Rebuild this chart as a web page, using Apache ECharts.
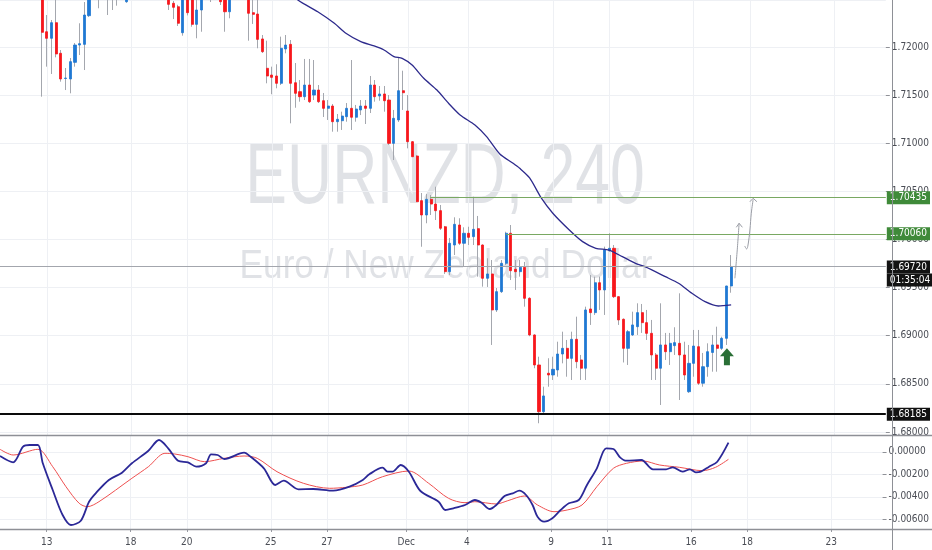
<!DOCTYPE html>
<html><head><meta charset="utf-8">
<script src="https://cdn.jsdelivr.net/npm/echarts@6/dist/echarts.min.js"></script>
<style>html,body{margin:0;padding:0;background:#fff}#c{width:932px;height:550px}</style>
</head><body><div id="c"></div><script>
// ---- data (EURNZD, 240) ----
const slotCount = 190;
const tickIdx  = [10, 28, 40, 58, 70, 87, 100, 118, 130, 148, 160, 178];
const tickText = ['13','18','20','25','27','Dec','4','9','11','16','18','23'];

const opens = [1.7282,1.7288,1.7284,1.7290,1.7283,1.7286,1.7280,1.7276,1.7272,1.7260,
1.72160,1.72092,1.72254,1.71936,1.71674,1.71669,1.71842,1.72022,1.72029,1.72327,
1.7252,1.7263,1.7258,1.7266,1.7260,1.7263,1.7257,1.72472,1.7262,1.7270,
1.7266,1.7274,1.7270,1.7268,1.7276,1.7266,1.72500,1.72456,1.72420,1.72150,
1.72552,1.7254,1.72237,1.72386,1.7252,1.7262,1.7258,1.7266,1.7250,1.72368,
1.7255,1.7262,1.7258,1.7254,1.72358,1.72344,1.72085,1.71780,1.71710,1.71700,
1.71624,1.71981,1.72029,1.71630,1.71537,1.71485,1.71606,1.71502,1.71554,1.71443,
1.71364,1.71388,1.71225,1.71235,1.71277,1.71364,1.71271,1.71347,1.71388,1.71364,
1.71606,1.71492,1.71513,1.71450,1.71000,1.71243,1.71547,1.71336,1.71017,1.70868,
1.70404,1.70255,1.70418,1.70369,1.70300,1.70133,1.69666,1.69943,1.70151,1.69961,
1.70065,1.70030,1.70113,1.69943,1.69597,1.69642,1.69268,1.69458,1.69753,1.70065,
1.69691,1.69666,1.69711,1.69389,1.69008,1.68696,1.68210,1.68610,1.68592,1.68644,
1.68810,1.68869,1.68765,1.68963,1.68748,1.68662,1.69278,1.69240,1.69551,1.69476,
1.69884,1.69909,1.69406,1.69171,1.68869,1.69008,1.69094,1.69240,1.69136,1.69025,
1.68800,1.68662,1.68904,1.68834,1.68897,1.68921,1.68800,1.68418,1.68713,1.68886,
1.68506,1.68678,1.68826,1.68904,1.68869,1.68973,1.69517];
const closes = [1.7288,1.7284,1.7290,1.7283,1.7286,1.7280,1.7276,1.7272,1.7260,1.72154,
1.72092,1.72254,1.71929,1.71669,1.71679,1.71849,1.72022,1.72036,1.72334,1.72521,
1.7262,1.7258,1.7266,1.7260,1.7263,1.7257,1.7265,1.7262,1.7270,1.7266,
1.7274,1.7270,1.7268,1.7276,1.7266,1.7252,1.72445,1.72414,1.72248,1.72552,
1.72358,1.72237,1.72386,1.7252,1.7262,1.7258,1.7266,1.72472,1.72368,1.7255,
1.7262,1.7258,1.7254,1.72352,1.72341,1.72081,1.71953,1.71700,1.71686,1.71624,
1.71988,1.72022,1.71624,1.71520,1.71485,1.71606,1.71433,1.71554,1.71433,1.71364,
1.71388,1.71225,1.71250,1.71284,1.71364,1.71271,1.71357,1.71388,1.71364,1.71606,
1.71485,1.71513,1.71443,1.71000,1.71260,1.71547,1.71526,1.71017,1.70861,1.70393,
1.70255,1.70418,1.70369,1.70300,1.70117,1.69666,1.69961,1.70158,1.69961,1.70065,
1.70023,1.70106,1.69943,1.69597,1.69642,1.69268,1.69458,1.69753,1.70065,1.69676,
1.69666,1.69711,1.69389,1.69008,1.68696,1.68210,1.68374,1.68592,1.68651,1.68810,
1.68869,1.68765,1.68963,1.68730,1.68662,1.69268,1.69240,1.69551,1.69476,1.69892,
1.69909,1.69406,1.69164,1.68869,1.69042,1.69112,1.69240,1.69136,1.69025,1.68800,
1.68662,1.68904,1.68834,1.68921,1.68928,1.68800,1.68592,1.68713,1.68893,1.68506,
1.68678,1.68834,1.68904,1.68869,1.68973,1.69517,1.69720];
const lows = [1.7277,1.7279,1.7280,1.7278,1.7276,1.7274,1.7270,1.7265,1.7255,1.71485,
1.71797,1.71721,1.71894,1.71641,1.71554,1.71520,1.71797,1.71918,1.71762,1.72313,
1.7250,1.72404,1.7253,1.72334,1.72386,1.72431,1.7252,1.72460,1.7258,1.7260,
1.7262,1.7264,1.7262,1.7264,1.7262,1.7250,1.72386,1.72292,1.72220,1.72119,
1.7233,1.72212,1.72092,1.72160,1.7250,1.72469,1.7254,1.72438,1.72160,1.7230,
1.7250,1.7252,1.7250,1.72067,1.72241,1.71988,1.71939,1.71624,1.71510,1.71572,
1.71606,1.71936,1.71208,1.71370,1.71433,1.71450,1.71419,1.71450,1.71419,1.71274,
1.71243,1.71121,1.71121,1.71139,1.71225,1.71139,1.71225,1.71294,1.71201,1.71315,
1.71433,1.71443,1.71329,1.70983,1.70827,1.71222,1.71347,1.70948,1.70858,1.70390,
1.69925,1.70169,1.70255,1.70203,1.70099,1.69642,1.69631,1.69839,1.69943,1.69718,
1.69943,1.69943,1.69614,1.69510,1.69507,1.68904,1.69247,1.69444,1.69735,1.69579,
1.69476,1.69614,1.69302,1.68995,1.68662,1.68090,1.68197,1.68470,1.68540,1.68574,
1.68713,1.68574,1.68540,1.68662,1.68540,1.68540,1.69112,1.69216,1.69268,1.69216,
1.69871,1.69392,1.69112,1.68722,1.68696,1.68997,1.69008,1.69029,1.68956,1.68540,
1.68540,1.68280,1.68748,1.68696,1.68800,1.68332,1.68540,1.68405,1.68574,1.68488,
1.68470,1.68574,1.68626,1.68626,1.68852,1.68904,1.69447];
const highs = [1.7293,1.7292,1.7296,1.7294,1.7291,1.7289,1.7285,1.7280,1.7278,1.72646,
1.72334,1.72282,1.72542,1.71970,1.71783,1.71887,1.72043,1.72248,1.72469,1.72594,
1.7270,1.7268,1.7272,1.7275,1.7271,1.7268,1.7270,1.7266,1.7276,1.7278,
1.7280,1.7282,1.7276,1.7282,1.7280,1.7270,1.7256,1.7248,1.7244,1.7258,
1.7260,1.7258,1.7250,1.7260,1.7268,1.7270,1.7272,1.7268,1.7256,1.7262,
1.7268,1.7270,1.7266,1.7262,1.7249,1.7249,1.72126,1.72067,1.71797,1.71822,
1.72109,1.72126,1.72074,1.71835,1.71658,1.71877,1.71877,1.71866,1.71606,1.71523,
1.71450,1.71409,1.71305,1.71329,1.71419,1.71866,1.71399,1.71450,1.71450,1.71700,
1.71658,1.71596,1.71596,1.71502,1.71347,1.71894,1.71755,1.71502,1.71024,1.70879,
1.70484,1.70473,1.70463,1.70549,1.70359,1.70141,1.70016,1.70231,1.70221,1.70127,
1.70133,1.70445,1.70245,1.69950,1.69805,1.69787,1.69496,1.69787,1.70081,1.70151,
1.69787,1.69787,1.69767,1.69400,1.69015,1.68782,1.68470,1.68766,1.68782,1.68938,
1.69042,1.68956,1.69042,1.69198,1.68800,1.69302,1.69631,1.69614,1.69614,1.69926,
1.70065,1.69943,1.69410,1.69180,1.69060,1.69250,1.69337,1.69330,1.69268,1.69164,
1.68820,1.69337,1.69029,1.69029,1.69088,1.69441,1.68938,1.68904,1.69060,1.69060,
1.68821,1.68921,1.69008,1.69094,1.68990,1.69520,1.69839];

// moving average (navy), read at bar positions
const maIdx = [60.4,63.56,67.8,71.34,73.8,76.98,79.82,81.94,84.05,85.81,87.93,90.41,93.23,95.71,98.17,101.34,103.82,106.64,109.48,110.88,113.0,115.48,117.95,121.47,124.31,127.13,129.95,132.79,135.6,137.72,141.96,144.78,147.62,150.44,153.26,156];
const maVal = [1.72646,1.72490,1.72368,1.72248,1.72144,1.72057,1.72012,1.71970,1.71901,1.71884,1.71814,1.71676,1.71554,1.71416,1.71295,1.71191,1.71069,1.70889,1.70792,1.70740,1.70640,1.70432,1.70273,1.70099,1.69978,1.69909,1.69891,1.69822,1.69753,1.69715,1.69614,1.69545,1.69441,1.69354,1.69309,1.69320];

// MACD pane
const macdIdx = [0,2.82,4.94,6.36,8.12,9.17,11.29,13.41,15.19,17.31,19.07,20.49,23.31,26.12,28.24,31.78,34.05,36.02,38.14,40.26,42.01,44.13,45.19,46.61,48.03,52.27,53.67,56.51,58.96,60.74,63.92,67.1,71.34,74.85,77.69,79.09,81.93,82.99,84.05,85.81,87.56,90.04,93.92,95.34,97.1,99.58,101.7,103.12,104.88,106.29,108.05,109.81,111.23,112.65,114.05,115.11,116.53,118.29,120.06,121.82,123.94,125.7,127.82,129.81,131.36,132.78,134.18,137.35,139.83,142.65,144.07,146.19,147.73,149.0,150.06,151.84,153.6,156];
const macdVal = [-0.000365,-0.000926,0.000463,0.000614,0.000614,-0.001015,-0.003391,-0.005616,-0.006506,-0.006124,-0.004433,-0.003685,-0.002501,-0.001851,-0.001015,0.000107,0.001059,0.000320,-0.000783,-0.000926,-0.001317,-0.001015,-0.000214,-0.000276,-0.000632,-0.000071,-0.000427,-0.001460,-0.002946,-0.002563,-0.003329,-0.003302,-0.003453,-0.003097,-0.002501,-0.001994,-0.001406,-0.001762,-0.001762,-0.001166,-0.001762,-0.003480,-0.004433,-0.005171,-0.005020,-0.004726,-0.004281,-0.004522,-0.005082,-0.004726,-0.003925,-0.003685,-0.003453,-0.003836,-0.004726,-0.005768,-0.006213,-0.005910,-0.005171,-0.004575,-0.004281,-0.002946,-0.001460,0.000320,0.000258,-0.000481,-0.000783,-0.000721,-0.001549,-0.001549,-0.001371,-0.001762,-0.001549,-0.001816,-0.001762,-0.001317,-0.000872,0.000819];
const sigIdx = [0,2.82,8.12,11.29,14.13,16.95,18.71,21.19,28.24,31.78,35.32,37.44,40.25,43.79,48.03,52.27,55.08,59.32,64.98,70.61,74.15,77.69,81.93,87.56,91.8,96.04,99.58,101.7,106.29,108.75,112.29,115.11,118.64,121.46,124.64,127.82,131.36,134.18,137.71,141.25,145.49,150.42,153.24,156];
const sigVal = [0.000231,-0.000276,0.000231,-0.001317,-0.003097,-0.004575,-0.004878,-0.004433,-0.002350,-0.001317,-0.000125,-0.000187,-0.000427,-0.000872,-0.000570,-0.000365,-0.000570,-0.001762,-0.002795,-0.003240,-0.003151,-0.002946,-0.002207,-0.001700,-0.002795,-0.004130,-0.004522,-0.004433,-0.004637,-0.004344,-0.003925,-0.004726,-0.005323,-0.005171,-0.004726,-0.003097,-0.001460,-0.001015,-0.000810,-0.001166,-0.001371,-0.001673,-0.001371,-0.000659];

// horizontal levels
const resist1 = 1.70435, resist1From = 91.8;
const resist2 = 1.70060, resist2From = 108;
const lastPrice = 1.69720, countdown = '01:35:04';
const support = 1.68185;

// hand drawn arrows (bar index, price)
const arrow1 = [[156.8,1.69597],[157.3,1.69892],[157.7,1.70169]];
const head1  = [[157.1,1.70127],[157.7,1.70169],[158.4,1.70127]];
const arrow2 = [[158.9,1.69933],[159.3,1.69902],[159.6,1.69943],[160.0,1.70099],[160.3,1.70273],[160.7,1.70418]];
const head2  = [[160.0,1.70393],[160.7,1.70429],[161.5,1.70393]];
const signalArrow = [[155.1,1.68782]];

// ---- chart ----
const FONT = "'Liberation Sans Narrow','DejaVu Sans Condensed','Liberation Sans',sans-serif";
const cats = Array.from({length: slotCount}, (_, i) => String(i));
const isTick = (i) => tickIdx.indexOf(i) >= 0;
const zip = (a, b) => a.map((v, i) => [v, b[i]]);
const wickData = opens.map((o, i) => [o, closes[i], lows[i], highs[i]]);
const bodyData = opens.map((o, i) => [o, closes[i], Math.min(o, closes[i]), Math.max(o, closes[i])]);

const chart = echarts.init(document.getElementById('c'), null, {renderer: 'canvas'});
const grid0 = {left: 0, right: 40, top: 0, height: 435};
const grid1 = {left: 0, right: 40, top: 435, height: 94};
const splitCol = '#eef0f4';
const labelCol = '#4a4d55';
const wmCol = 'rgba(170,174,186,0.36)';

const levelLabel = (bg) => ({
  show: true, position: 'end', distance: 1, color: '#fff', backgroundColor: bg,
  padding: [2, 3, 1, 3], fontSize: 10, fontFamily: FONT
});

chart.setOption({
  animation: false,
  textStyle: {fontFamily: FONT},
  grid: [grid0, grid1],
  xAxis: [
    {type: 'category', gridIndex: 0, data: cats, boundaryGap: false,
     axisLine: {show: false, onZero: false}, axisTick: {show: false}, axisLabel: {show: false},
     splitLine: {show: true, interval: (i) => isTick(i), lineStyle: {color: splitCol}}},
    {type: 'category', gridIndex: 1, data: cats, boundaryGap: false,
     axisLine: {show: false, onZero: false},
     axisTick: {show: true, interval: (i) => isTick(i), length: 3, lineStyle: {color: '#9a9ca3'}},
     axisLabel: {show: true, interval: (i) => isTick(i), formatter: (v, i) => tickText[tickIdx.indexOf(Number(v))] || '',
                 fontSize: 10, color: labelCol, margin: 8, fontFamily: FONT},
     splitLine: {show: true, interval: (i) => isTick(i), lineStyle: {color: splitCol}}},
    {type: 'value', gridIndex: 0, min: 0, max: slotCount - 1, show: false, axisLine: {onZero: false}},
    {type: 'value', gridIndex: 1, min: 0, max: slotCount - 1, show: false, axisLine: {onZero: false}}
  ],
  yAxis: [
    {type: 'value', gridIndex: 0, position: 'right', min: 1.67968, max: 1.72490, splitNumber: 9,
     axisLine: {show: false, onZero: false},
     axisTick: {show: true, length: 4, lineStyle: {color: '#8f9197'}},
     axisLabel: {formatter: (v) => v.toFixed(5), fontSize: 10, color: labelCol, margin: 6,
                 showMinLabel: false, showMaxLabel: false, fontFamily: FONT},
     splitLine: {show: true, lineStyle: {color: splitCol}}},
    {type: 'value', gridIndex: 1, position: 'right', min: -0.006863, max: 0.001504, splitNumber: 4,
     axisLine: {show: false, onZero: false},
     axisTick: {show: true, length: 4, lineStyle: {color: '#8f9197'}},
     axisLabel: {formatter: (v) => v.toFixed(5), fontSize: 10, color: labelCol, margin: 6,
                 showMinLabel: false, showMaxLabel: false, fontFamily: FONT},
     splitLine: {show: true, lineStyle: {color: splitCol}}}
  ],
  graphic: [
    {type: 'text', x: 445, y: 180, scaleX: 0.735, z: 0, silent: true,
     style: {text: 'EURNZD, 240', font: '85px "Liberation Sans", Arial, sans-serif', fill: wmCol,
             align: 'center', verticalAlign: 'middle', textAlign: 'center', textVerticalAlign: 'middle'}},
    {type: 'text', x: 446, y: 267, scaleX: 0.88, z: 0, silent: true,
     style: {text: 'Euro / New Zealand Dollar', font: '40px "Liberation Sans", Arial, sans-serif', fill: wmCol,
             align: 'center', verticalAlign: 'middle', textAlign: 'center', textVerticalAlign: 'middle'}},
    {type: 'line', z: 100, silent: true, shape: {x1: 0, y1: 435.5, x2: 932, y2: 435.5}, style: {stroke: '#8e9096', lineWidth: 1.5}},
    {type: 'line', z: 100, silent: true, shape: {x1: 0, y1: 529.5, x2: 932, y2: 529.5}, style: {stroke: '#8e9096', lineWidth: 1.5}},
    {type: 'line', z: 100, silent: true, shape: {x1: 892.5, y1: 0, x2: 892.5, y2: 550}, style: {stroke: '#8e9096', lineWidth: 1}}
  ],
  series: [
    {name: 'wick', type: 'candlestick', xAxisIndex: 0, yAxisIndex: 0, data: wickData, barWidth: 1,
     itemStyle: {color: '#a4a7ae', color0: '#a4a7ae', borderColor: '#a4a7ae', borderColor0: '#a4a7ae', borderWidth: 1}},
    {name: 'body', type: 'candlestick', xAxisIndex: 0, yAxisIndex: 0, data: bodyData, barWidth: 2.6, z: 3,
     itemStyle: {color: '#1f78d3', color0: '#f7171c', borderColor: '#1f78d3', borderColor0: '#f7171c', borderWidth: 0.8}},
    {name: 'MA', type: 'line', xAxisIndex: 2, yAxisIndex: 0, data: zip(maIdx, maVal), symbol: 'none', smooth: 0.25,
     lineStyle: {color: '#2d2a8c', width: 1.3}, z: 4,
     markLine: {silent: true, symbol: ['none', 'none'], animation: false,
       lineStyle: {type: 'solid'},
       data: [
         [{coord: [resist1From, resist1], lineStyle: {type: 'solid', color: '#79a862', width: 1.2}, label: Object.assign(levelLabel('#3f8a39'), {formatter: resist1.toFixed(5)})},
          {coord: [slotCount - 1, resist1]}],
         [{coord: [resist2From, resist2], lineStyle: {type: 'solid', color: '#79a862', width: 1.2}, label: Object.assign(levelLabel('#3f8a39'), {formatter: resist2.toFixed(5)})},
          {coord: [slotCount - 1, resist2]}],
         [{coord: [0, lastPrice], lineStyle: {type: 'solid', color: '#a3a6ad', width: 1},
           label: {show: true, position: 'end', distance: 1, offset: [0, 7], fontFamily: FONT, fontSize: 10,
                   formatter: '{a|' + lastPrice.toFixed(5) + '}\n{b|' + countdown + '}',
                   rich: {a: {color: '#fff', backgroundColor: '#131313', padding: [2, 3, 1, 3], fontSize: 10, fontFamily: FONT, lineHeight: 13},
                          b: {color: '#fff', backgroundColor: '#131313', padding: [2, 3, 1, 3], fontSize: 10, fontFamily: FONT, lineHeight: 13}}}},
          {coord: [slotCount - 1, lastPrice]}],
         [{coord: [0, support], lineStyle: {type: 'solid', color: '#0a0a0a', width: 2}, label: Object.assign(levelLabel('#111111'), {formatter: support.toFixed(5)})},
          {coord: [slotCount - 1, support]}]
       ]}},
    {name: 'arrow1', type: 'line', xAxisIndex: 2, yAxisIndex: 0, data: arrow1, symbol: 'none', smooth: 0.4,
     lineStyle: {color: '#9a9da5', width: 1}, z: 5},
    {name: 'head1', type: 'line', xAxisIndex: 2, yAxisIndex: 0, data: head1, symbol: 'none',
     lineStyle: {color: '#9a9da5', width: 1}, z: 5},
    {name: 'arrow2', type: 'line', xAxisIndex: 2, yAxisIndex: 0, data: arrow2, symbol: 'none', smooth: 0.4,
     lineStyle: {color: '#9a9da5', width: 1}, z: 5},
    {name: 'head2', type: 'line', xAxisIndex: 2, yAxisIndex: 0, data: head2, symbol: 'none',
     lineStyle: {color: '#9a9da5', width: 1}, z: 5},
    {name: 'signal', type: 'scatter', xAxisIndex: 2, yAxisIndex: 0, data: signalArrow,
     symbol: 'path://M7,0 L14,8 L10,8 L10,17 L4,17 L4,8 L0,8 Z', symbolSize: [14, 17],
     itemStyle: {color: '#2a6f36', opacity: 1}, z: 6},
    {name: 'MACD', type: 'line', xAxisIndex: 3, yAxisIndex: 1, data: zip(macdIdx, macdVal), symbol: 'none', smooth: 0.3,
     lineStyle: {color: '#2b2897', width: 1.8}, z: 4},
    {name: 'Signal', type: 'line', xAxisIndex: 3, yAxisIndex: 1, data: zip(sigIdx, sigVal), symbol: 'none', smooth: 0.3,
     lineStyle: {color: '#ee5050', width: 1}, z: 3}
  ]
});
</script></body></html>
